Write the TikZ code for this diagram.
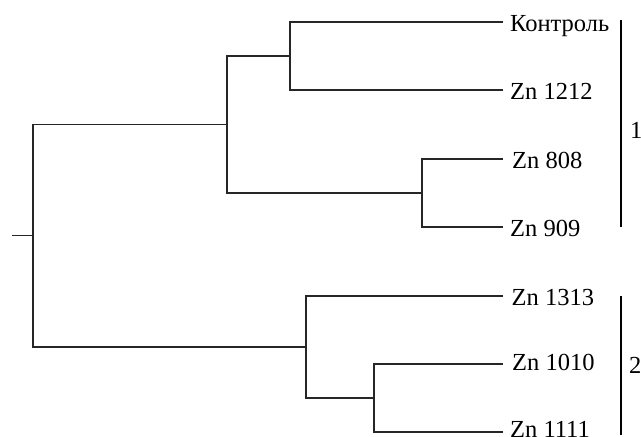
\documentclass[tikz,border=0pt]{standalone}
\usepackage{fontspec}
\setmainfont{Liberation Serif}
\begin{document}
\begin{tikzpicture}[x=1pt,y=-1pt,
  branch/.style={line width=1.3pt,black!85},
  leaf/.style={anchor=west,inner sep=0pt,inner xsep=7pt,text height=18pt,text depth=0pt,font=\fontsize{24.5}{24.5}\selectfont},
  groupbar/.style={line width=2.6pt},
  grouplabel/.style={anchor=west,inner sep=0pt,font=\fontsize{24.5}{24.5}\selectfont}]
\useasboundingbox (0,0) rectangle (641,437);
% leaves
\node[leaf] (k) at (503,22) {Контроль};
\node[leaf] (z1212) at (503,90) {Zn 1212};
\node[leaf,inner xsep=9pt] (z808) at (503,159) {Zn 808};
\node[leaf] (z909) at (503,227) {Zn 909};
\node[leaf,inner xsep=8.5pt] (z1313) at (503,296) {Zn 1313};
\node[leaf,inner xsep=9pt,text height=13pt] (z1010) at (503,364) {Zn 1010};
\node[leaf,text height=10pt] (z1111) at (503,432) {Zn 1111};
% internal nodes
\coordinate (A) at (290,56);
\coordinate (B) at (422,193);
\coordinate (C) at (227,124.7);
\coordinate (D) at (374,398);
\coordinate (E) at (306,347);
\coordinate (R) at (33,235.7);
\coordinate (S) at (12,235.7);
% branches
\draw[branch] (A) |- (k.west);
\draw[branch] (A) |- (z1212.west);
\draw[branch] (B) |- (z808.west);
\draw[branch] (B) |- (z909.west);
\draw[branch] (C) |- (A);
\draw[branch] (C) |- (B);
\draw[branch] (D) |- (z1010.west);
\draw[branch] (D) |- (z1111.west);
\draw[branch] (E) |- (z1313.west);
\draw[branch] (E) |- (D);
\draw[branch] (R) |- (C);
\draw[branch] (R) |- (E);
\draw[branch] (S) -- (R);
% group bars
\coordinate (g1a) at (621,20);
\coordinate (g1b) at (621,227);
\coordinate (g2a) at (621,296);
\coordinate (g2b) at (621,435);
\draw[groupbar] (g1a) -- (g1b);
\draw[groupbar] (g2a) -- (g2b);
\node[grouplabel] (l1) at (630,130) {1};
\node[grouplabel] (l2) at (629,365) {2};
\end{tikzpicture}
\end{document}
